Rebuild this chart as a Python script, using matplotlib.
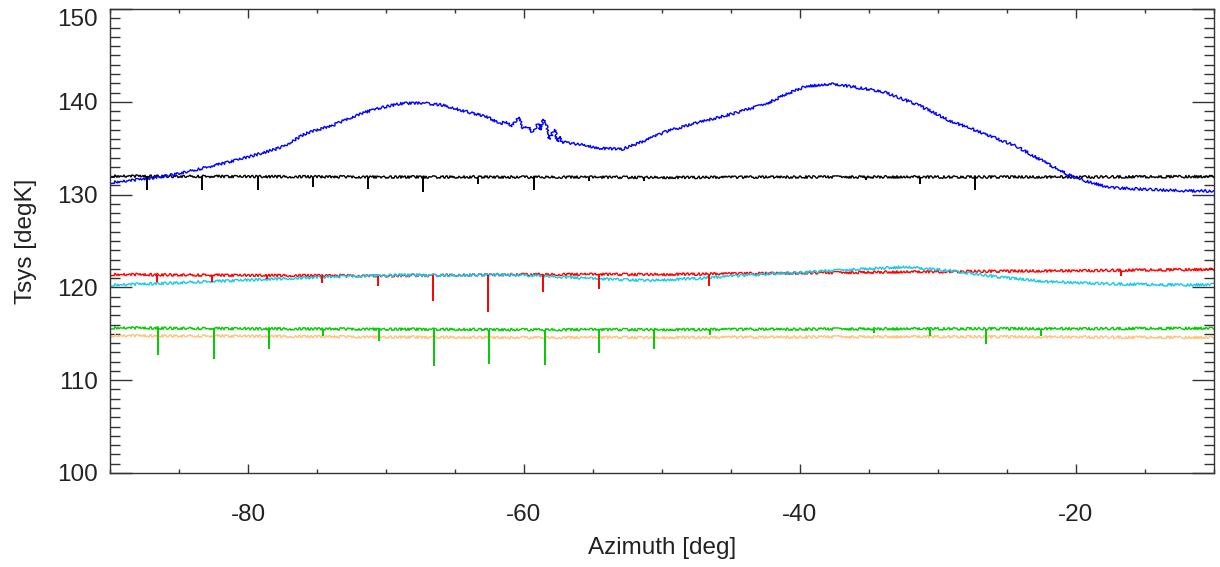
import numpy as np
import matplotlib
matplotlib.use("Agg")
import matplotlib.pyplot as plt
from matplotlib.ticker import MultipleLocator

plt.rcParams['font.family'] = ['Liberation Sans', 'DejaVu Sans']
plt.rcParams['axes.unicode_minus'] = False

# blue: the one that moves with azimuth
blue_az = [-90, -88, -86, -84, -82, -80, -78, -77.4, -75.8, -73.8, -72.4, -70.9,
           -69.0, -67.5, -65.9, -64.2, -62.7, -61.74, -61.25, -60.89, -60.41,
           -60.06, -59.69, -59.45, -59.2, -58.96, -58.84, -58.6, -58.36, -58.17,
           -57.88, -57.75, -57.59, -57.44, -57.27, -56.9, -55.7, -54.5, -52.9,
           -51.6, -49.7, -47.2, -44.8, -42.4, -40.9, -39.5, -37.6, -36.5, -34.0,
           -31.4, -29.2, -26.7, -24.3, -21.9, -20.0, -17.5, -14.6, -12.2, -10.0]
blue_tsys = [131.3, 131.6, 132.0, 132.6, 133.3, 134.05, 134.9, 135.25, 136.6, 137.5,
             138.4, 139.2, 139.8, 139.9, 139.65, 138.95, 138.4, 137.68, 137.86,
             137.32, 138.39, 137.14, 137.32, 136.78, 137.14, 137.68, 136.96, 138.11,
             137.32, 135.96, 136.78, 136.96, 135.7, 136.3, 135.7, 135.6, 135.35,
             135.0, 134.9, 135.6, 136.8, 137.85, 138.75, 139.8, 140.9, 141.7, 141.9,
             141.7, 141.1, 139.65, 138.0, 136.6, 135.2, 133.2, 131.75, 130.75,
             130.55, 130.42, 130.38]

# flat channels, every 10 deg
flat_az = [-90, -80, -70, -60, -50, -40, -30, -20, -10]
black_tsys = [132.0, 131.95, 131.9, 131.9, 131.85, 131.9, 131.9, 131.9, 131.95]
red_tsys = [121.4, 121.3, 121.25, 121.4, 121.4, 121.55, 121.7, 121.8, 121.95]
green_tsys = [115.65, 115.55, 115.5, 115.45, 115.45, 115.5, 115.55, 115.55, 115.6]
orange_tsys = [114.8, 114.75, 114.65, 114.6, 114.6, 114.65, 114.7, 114.65, 114.6]

cyan_az = [-90, -86, -83.5, -78.7, -73.8, -69, -65.4, -61.7, -58.1, -54.5, -50.9,
           -47.3, -43.6, -40, -36.4, -32.5, -29.1, -25.5, -21.9, -17, -12.2, -10]
cyan_tsys = [120.26, 120.45, 120.6, 120.87, 121.15, 121.34, 121.3, 121.4, 121.2,
             120.9, 120.75, 120.98, 121.34, 121.6, 121.9, 122.2, 121.8, 121.1,
             120.6, 120.37, 120.26, 120.33]

# dips (azimuth, lowest value)
black_dip_az = [-87.3, -83.3, -79.3, -75.3, -71.3, -67.3, -63.3, -59.3, -55.3,
                -51.3, -35.2, -31.3, -27.3]
black_dip_min = [130.5, 130.5, 130.5, 130.8, 130.65, 130.3, 131.2, 130.5, 131.5,
                 131.5, 131.6, 131.2, 130.5]
red_dip_az = [-86.6, -82.6, -78.65, -74.67, -70.6, -66.6, -62.6, -58.6, -54.6,
              -46.6, -16.7]
red_dip_min = [120.6, 120.6, 120.9, 120.45, 120.15, 118.5, 117.3, 119.5, 119.8,
               120.2, 121.2]
green_dip_az = [-86.5, -82.5, -78.5, -74.55, -70.5, -66.55, -62.55, -58.5, -54.55,
                -50.55, -46.5, -34.6, -30.6, -26.55, -22.55]
green_dip_min = [112.7, 112.3, 113.4, 114.75, 114.25, 111.55, 111.75, 111.65, 112.9,
                 113.35, 114.85, 115.05, 114.8, 113.95, 114.75]

fig = plt.figure(figsize=(12.2, 5.67), dpi=100)
ax = fig.add_axes([0.0902, 0.1658, 0.9048, 0.8182])

def draw(x, y, color, lw=1.0):
    ln, = ax.plot(x, y, color=color, lw=lw)
    ln.set_sketch_params(scale=1.3, length=2.5, randomness=3)
    return ln

draw(flat_az, black_tsys, 'black')
draw(flat_az, red_tsys, '#ff0000')
draw(flat_az, orange_tsys, '#ffc27a')
draw(flat_az, green_tsys, '#00cc00')
draw(cyan_az, cyan_tsys, '#16cbe8')
draw(blue_az, blue_tsys, '#0000ff')

ax.vlines(black_dip_az, black_dip_min, np.interp(black_dip_az, flat_az, black_tsys),
          color='black', lw=1.4)
ax.vlines(red_dip_az, red_dip_min, np.interp(red_dip_az, flat_az, red_tsys),
          color='#ff0000', lw=1.4)
ax.vlines(green_dip_az, green_dip_min, np.interp(green_dip_az, flat_az, green_tsys),
          color='#00cc00', lw=1.4)

ax.set_xlim(-90, -10)
ax.set_ylim(100, 150)
ax.xaxis.set_major_locator(MultipleLocator(20))
ax.xaxis.set_minor_locator(MultipleLocator(5))
ax.yaxis.set_major_locator(MultipleLocator(10))
ax.yaxis.set_minor_locator(MultipleLocator(1))

ax.tick_params(which='both', direction='in', top=True, right=True,
               color='#333333', width=1.0, labelsize=17.5, labelcolor='#222222')
ax.tick_params(axis='y', which='major', length=15.5, pad=9)
ax.tick_params(axis='y', which='minor', length=7.2)
ax.tick_params(axis='x', which='major', length=6.5, pad=22)
ax.tick_params(axis='x', which='minor', length=3.2)
for s in ax.spines.values():
    s.set_color('#333333')
    s.set_linewidth(1.0)

ax.set_xlabel('Azimuth [deg]', fontsize=17.5, color='#222222', labelpad=8)
ax.set_ylabel('Tsys [degK]', fontsize=17.5, color='#222222', labelpad=14)

# top label sits inside the frame, like the original
fig.canvas.draw()
for t in ax.yaxis.get_major_ticks():
    if t.get_loc() is not None and abs(t.get_loc() - 150) < 1e-6:
        t.label1.set_verticalalignment('top')

fig.savefig('out.png', dpi=100)
